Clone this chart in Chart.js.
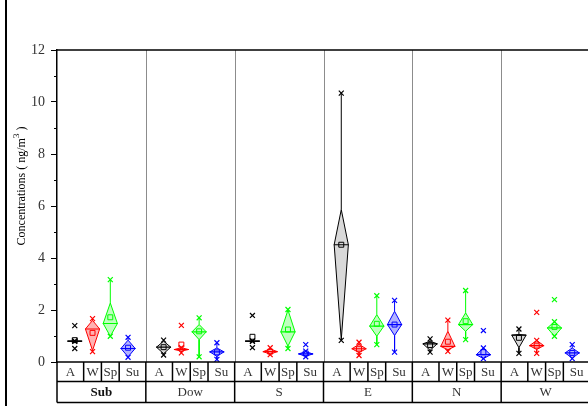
<!DOCTYPE html>
<html><head><meta charset="utf-8">
<script src="https://cdn.jsdelivr.net/npm/chart.js@4"></script>
<style>html,body{margin:0;padding:0;overflow:hidden;background:#fff}#wrap{width:600px;height:406px}</style>
</head><body><div id="wrap"><canvas id="c" width="600" height="406"></canvas></div>
<script>
// ---- data (rows: seasons A, W, Sp, Su; columns: panels) ----
const panels = ['Sub','Dow','S','E','N','W'];
const seasons = ['A','W','Sp','Su'];
const seasonColors = ['#000000','#ff0000','#00ff00','#0000ff'];
const seasonFills = ['rgba(0,0,0,0.15)','rgba(255,0,0,0.3)','rgba(0,255,0,0.25)','rgba(0,0,255,0.3)'];
const yTicks = [0,2,4,6,8,10,12];

const q1 = [
  [0.79, 0.32, 0.79, 0.86, 0.45, 0.55],
  [0.44, 0.42, 0.30, 0.36, 0.47, 0.48],
  [0.99, 0.86, 0.61, 0.99, 1.18, 0.99],
  [0.20, 0.22, 0.22, 1.02, 0.13, 0.15]
];
const med = [
  [0.80, 0.57, 0.80, 4.51, 0.70, 1.03],
  [1.27, 0.48, 0.40, 0.51, 0.60, 0.63],
  [1.48, 1.16, 1.16, 1.38, 1.44, 1.31],
  [0.52, 0.39, 0.31, 1.44, 0.28, 0.35]
];
const q3 = [
  [0.81, 0.80, 0.81, 5.86, 0.80, 1.06],
  [1.60, 0.55, 0.50, 0.68, 1.18, 0.83],
  [2.27, 1.44, 2.00, 1.82, 1.89, 1.55],
  [0.84, 0.54, 0.40, 1.95, 0.54, 0.54]
];
const mean = [
  [0.84, 0.57, 0.97, 4.51, 0.65, 0.93],
  [1.12, 0.67, 0.40, 0.51, 0.78, 0.63],
  [1.72, 1.18, 1.25, 1.47, 1.57, 1.35],
  [0.55, 0.37, 0.33, 1.44, 0.38, 0.35]
];
const lo = [
  [0.79, 0.27, 0.79, 0.83, 0.38, 0.33],
  [0.40, 0.35, 0.28, 0.25, 0.41, 0.33],
  [0.99, 0.20, 0.52, 0.67, 0.86, 0.99],
  [0.18, 0.10, 0.20, 0.38, 0.13, 0.13]
];
const hi = [
  [0.81, 0.84, 0.81, 10.34, 0.89, 1.27],
  [1.67, 0.55, 0.55, 0.76, 1.61, 0.83],
  [3.17, 1.70, 2.02, 2.55, 2.75, 1.55],
  [0.95, 0.74, 0.42, 2.37, 0.54, 0.67]
];
const outliers = [
  [[1.40, 0.52], [], [1.79, 0.55], [], [], []],
  [[], [1.41], [], [], [], [1.91]],
  [[], [], [], [], [], [2.40]],
  [[], [], [0.67], [], [1.21], []]
];

// ---- build datasets ----
const HW = 0.4;      // diamond half width (x units)
const MW = 0.42;     // median line half width
const datasets = [];
const xPos = (p, s) => 5 * p + s + 1;

for (let s = 0; s < seasons.length; s++) {
  const col = seasonColors[s];
  for (let p = 0; p < panels.length; p++) {
    const x = xPos(p, s);
    datasets.push({
      data: [{x: x - HW, y: med[s][p]}, {x: x, y: q3[s][p]}, {x: x + HW, y: med[s][p]}],
      showLine: true, fill: '+1', backgroundColor: seasonFills[s], borderColor: col,
      borderWidth: 1, pointRadius: 0, order: 10
    });
    datasets.push({
      data: [{x: x - HW, y: med[s][p]}, {x: x, y: q1[s][p]}, {x: x + HW, y: med[s][p]}],
      showLine: true, fill: false, borderColor: col, borderWidth: 1, pointRadius: 0, order: 10
    });
  }
}
for (let s = 0; s < seasons.length; s++) {
  const col = seasonColors[s];
  const medPts = [], whPts = [], mkPts = [], meanPts = [];
  for (let p = 0; p < panels.length; p++) {
    const x = xPos(p, s);
    medPts.push({x: x - MW, y: med[s][p]}, {x: x + MW, y: med[s][p]}, {x: x + MW + 0.01, y: null});
    whPts.push({x: x, y: q3[s][p]}, {x: x, y: hi[s][p]}, {x: x, y: null},
               {x: x, y: q1[s][p]}, {x: x, y: lo[s][p]}, {x: x, y: null});
    mkPts.push({x: x, y: hi[s][p]}, {x: x, y: lo[s][p]});
    outliers[s][p].forEach(v => mkPts.push({x: x, y: v}));
    meanPts.push({x: x, y: mean[s][p]});
  }
  datasets.push({data: medPts, showLine: true, spanGaps: false, borderColor: col, borderWidth: 1.2, pointRadius: 0, order: 5});
  datasets.push({data: whPts, showLine: true, spanGaps: false, borderColor: col, borderWidth: 1, pointRadius: 0, order: 5});
  datasets.push({data: mkPts, showLine: false, pointStyle: 'crossRot', pointRadius: 3.5, borderColor: col, borderWidth: 1.2, backgroundColor: col, order: 2});
  datasets.push({data: meanPts, showLine: false, pointStyle: 'rect', pointRadius: 3.5, borderColor: col, borderWidth: 1, backgroundColor: 'rgba(0,0,0,0)', order: 1});
}

// ---- decoration plugin (axes frame, category boxes, title) ----
const serif = "'Liberation Serif', 'DejaVu Serif', serif";
function seg(ctx, x1, y1, x2, y2) { ctx.beginPath(); ctx.moveTo(x1, y1); ctx.lineTo(x2, y2); ctx.stroke(); }
const deco = {
  id: 'deco',
  beforeDraw(chart) {
    const ctx = chart.ctx;
    ctx.save(); ctx.fillStyle = '#fff'; ctx.fillRect(0, 0, chart.width, chart.height); ctx.restore();
  },
  beforeDatasetsDraw(chart) {
    const {ctx, chartArea: ca, scales: {x: xs}} = chart;
    ctx.save();
    ctx.strokeStyle = '#8c8c8c'; ctx.lineWidth = 1;
    for (let p = 1; p < panels.length; p++) {
      const px = Math.round(xs.getPixelForValue(5 * p)) + 0.5;
      seg(ctx, px, ca.top, px, ca.bottom);
    }
    ctx.restore();
  },
  afterDraw(chart) {
    const {ctx, chartArea: ca, scales: {x: xs, y: ys}} = chart;
    ctx.save();
    ctx.strokeStyle = '#000';
    ctx.lineWidth = 1.5;
    seg(ctx, ca.left, ca.top, ca.right, ca.top);
    seg(ctx, ca.left - 0.75, ca.bottom, ca.right, ca.bottom);
    const r1 = ca.bottom, r2 = ca.bottom + 19.5, r3 = ca.bottom + 40.5;
    seg(ctx, ca.left, r2, ca.right, r2);
    seg(ctx, ca.left, r3, ca.right, r3);
    for (let p = 0; p <= panels.length; p++) {
      const px = xs.getPixelForValue(5 * p);
      seg(ctx, px, r1, px, r3);
    }
    for (let p = 0; p < panels.length; p++) {
      [1.5, 2.5, 3.5].forEach(b => {
        const px = xs.getPixelForValue(5 * p + b);
        seg(ctx, px, r1, px, r2);
      });
    }
    // minor ticks
    ctx.lineWidth = 1;
    for (let v = 1; v < 12; v += 2) {
      const y = Math.round(ys.getPixelForValue(v)) + 0.5;
      seg(ctx, ca.left - 3, y, ca.left, y);
    }
    // category texts
    ctx.textAlign = 'center'; ctx.textBaseline = 'middle';
    ctx.fillStyle = '#333';
    ctx.font = '13px ' + serif;
    const cellEdges = [0, 1.5, 2.5, 3.5, 5];
    for (let p = 0; p < panels.length; p++) {
      for (let s = 0; s < seasons.length; s++) {
        const cx = (xs.getPixelForValue(5 * p + cellEdges[s]) + xs.getPixelForValue(5 * p + cellEdges[s + 1])) / 2;
        ctx.fillText(seasons[s], cx, (r1 + r2) / 2 + 1);
      }
      ctx.font = (p === 0 ? 'bold ' : '') + '13px ' + serif;
      ctx.fillStyle = p === 0 ? '#111' : '#333';
      const pc = xs.getPixelForValue(5 * p + 2.5);
      ctx.fillText(panels[p], pc, (r2 + r3) / 2 + 1);
      ctx.font = '13px ' + serif; ctx.fillStyle = '#333';
    }
    // y title with superscript
    ctx.fillStyle = '#000';
    ctx.translate(22, 186);
    ctx.rotate(-Math.PI / 2);
    ctx.textAlign = 'left'; ctx.textBaseline = 'middle';
    const t1 = 'Concentrations ( ng/m', t2 = '3', t3 = ' )';
    ctx.font = '12px ' + serif; const w1 = ctx.measureText(t1).width, w3 = ctx.measureText(t3).width;
    ctx.font = '9px ' + serif; const w2 = ctx.measureText(t2).width;
    let xx = -(w1 + w2 + w3) / 2;
    ctx.font = '12px ' + serif; ctx.fillText(t1, xx, 0); xx += w1;
    ctx.font = '9px ' + serif; ctx.fillText(t2, xx, -5); xx += w2;
    ctx.font = '12px ' + serif; ctx.fillText(t3, xx, 0);
    ctx.restore();
    // page frame line on the left
    ctx.save(); ctx.fillStyle = '#000'; ctx.fillRect(5, 0, 2, chart.height); ctx.restore();
  }
};

new Chart(document.getElementById('c'), {
  type: 'scatter',
  data: {datasets},
  plugins: [deco],
  options: {
    responsive: false, animation: false,
    layout: {padding: {left: 0, top: 50, right: 10, bottom: 44}},
    plugins: {legend: {display: false}, tooltip: {enabled: false}},
    scales: {
      x: {type: 'linear', min: 0, max: 30, display: false},
      y: {
        min: 0, max: 12,
        afterBuildTicks(s) { s.ticks = yTicks.map(v => ({value: v})); },
        afterFit(s) { s.width = 57; },
        ticks: {font: {family: serif, size: 14}, color: '#333', padding: 6},
        grid: {drawOnChartArea: false, tickLength: 6, color: '#000', tickWidth: 1},
        border: {color: '#000', width: 1.5}
      }
    }
  }
});
</script>
</body></html>
